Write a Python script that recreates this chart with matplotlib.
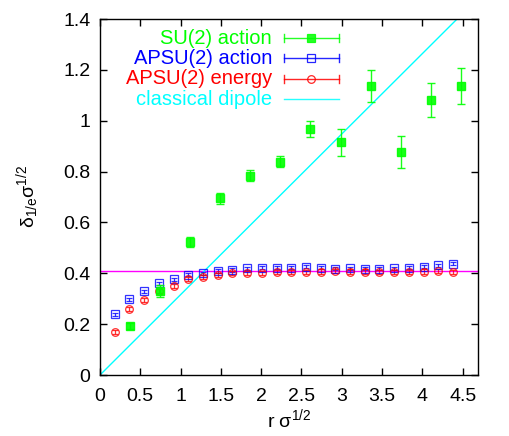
import matplotlib
matplotlib.use("Agg")
import matplotlib.pyplot as plt
from matplotlib.lines import Line2D

plt.rcParams['font.family'] = ['Liberation Sans', 'DejaVu Sans']
plt.rcParams['mathtext.fontset'] = 'custom'
plt.rcParams['mathtext.rm'] = 'Liberation Sans'
plt.rcParams['mathtext.it'] = 'Liberation Sans'

# SU(2) action
su_x = [0.373, 0.746, 1.119, 1.492, 1.865, 2.238, 2.611, 2.984, 3.357, 3.730, 4.103, 4.476]
su_y = [0.193, 0.330, 0.524, 0.695, 0.783, 0.839, 0.967, 0.916, 1.135, 0.878, 1.081, 1.137]
su_e = [0.012, 0.022, 0.020, 0.022, 0.022, 0.022, 0.033, 0.053, 0.063, 0.063, 0.066, 0.071]

# APSU(2) action / energy
ap_x = [0.1825 * n for n in range(1, 25)]
apa_y = [0.239, 0.298, 0.330, 0.360, 0.377, 0.394, 0.401, 0.409, 0.413, 0.419, 0.422, 0.422,
         0.422, 0.425, 0.422, 0.418, 0.420, 0.418, 0.418, 0.419, 0.422, 0.426, 0.431, 0.438]
apa_e = [0.006] * 24
ape_y = [0.169, 0.261, 0.295, 0.331, 0.351, 0.376, 0.384, 0.394, 0.400, 0.400, 0.402, 0.405,
         0.404, 0.405, 0.407, 0.409, 0.407, 0.407, 0.404, 0.405, 0.404, 0.407, 0.410, 0.406]
ape_e = [0.008] * 24

# classical dipole slope and asymptote level
dip_slope = 0.316
plateau = 0.41

xticks = [0, 0.5, 1, 1.5, 2, 2.5, 3, 3.5, 4, 4.5]
xtick_labels = ['0', '0.5', '1', '1.5', '2', '2.5', '3', '3.5', '4', '4.5']
yticks = [0, 0.2, 0.4, 0.6, 0.8, 1.0, 1.2, 1.4]
ytick_labels = ['0', '0.2', '0.4', '0.6', '0.8', '1', '1.2', '1.4']

GREEN = '#00ff00'
BLUE = '#0000ff'
RED = '#ff0000'
CYAN = '#00ffff'
MAG = '#ff00ff'

fig = plt.figure(figsize=(5.09, 4.36), dpi=100)
ax = fig.add_axes([100/509, 1 - 375/436, 378/509, 356/436])
xmax = 4.69
ax.set_xlim(0, xmax)
ax.set_ylim(0, 1.4)

ax.plot([0, xmax], [plateau, plateau], color=MAG, lw=1.0, zorder=1)
ax.plot([0, xmax], [0, dip_slope * xmax], color=CYAN, lw=1.0, zorder=1)

ax.errorbar(ap_x, apa_y, yerr=apa_e, fmt='s', ms=5.5, mfc='none', mec=BLUE, mew=0.9,
            ecolor=BLUE, elinewidth=0.9, capsize=2.5, capthick=0.9, zorder=3, alpha=0.8)
ax.errorbar(ap_x, ape_y, yerr=ape_e, fmt='o', ms=5.5, mfc='none', mec=RED, mew=0.9,
            ecolor=RED, elinewidth=0.9, capsize=2.5, capthick=0.9, zorder=3, alpha=0.8)
ax.errorbar(su_x, su_y, yerr=su_e, fmt='s', ms=5.5, mfc=GREEN, mec=GREEN,
            ecolor=GREEN, elinewidth=1.0, capsize=3, capthick=1.0, zorder=4, alpha=0.9)

ax.set_xticks(xticks)
ax.set_xticklabels(xtick_labels)
ax.set_yticks(yticks)
ax.set_yticklabels(ytick_labels)
ax.tick_params(direction='in', top=True, right=True, length=5, width=1, labelsize=14)
ax.tick_params(axis='x', pad=9)
ax.tick_params(axis='y', pad=7)
for s in ax.spines.values():
    s.set_linewidth(1.0)

ax.set_xlabel(r'r σ$^{\mathrm{1/2}}$', fontsize=14, labelpad=2)
ax.set_ylabel(r'δ$_{\mathrm{1/e}}$σ$^{\mathrm{1/2}}$', fontsize=14, labelpad=16)

# legend (gnuplot style: right-aligned labels, samples to the right)
leg_labels = ['SU(2) action', 'APSU(2) action', 'APSU(2) energy', 'classical dipole']
leg_colors = [GREEN, BLUE, RED, CYAN]
leg_markers = ['s', 's', 'o', None]
leg_fill = [GREEN, 'none', 'none', None]
rows = [0.946, 0.890, 0.832, 0.775]
tr = ax.transAxes
for lab, col, mk, fc, yy in zip(leg_labels, leg_colors, leg_markers, leg_fill, rows):
    ax.text(0.455, yy, lab, color=col, fontsize=14.5, ha='right', va='center', transform=tr)
    ax.add_line(Line2D([0.487, 0.632], [yy, yy], color=col, lw=1.0, transform=tr, alpha=0.85))
    if mk is not None:
        for xc in (0.487, 0.632):
            ax.add_line(Line2D([xc, xc], [yy - 0.012, yy + 0.012], color=col, lw=1.0,
                               transform=tr, alpha=0.85))
        ax.add_line(Line2D([0.558], [yy], marker=mk, ms=5.5,
                           mfc=fc, mec=col, mew=0.9, color=col, transform=tr, alpha=0.85))

fig.savefig('out.png', dpi=100)
